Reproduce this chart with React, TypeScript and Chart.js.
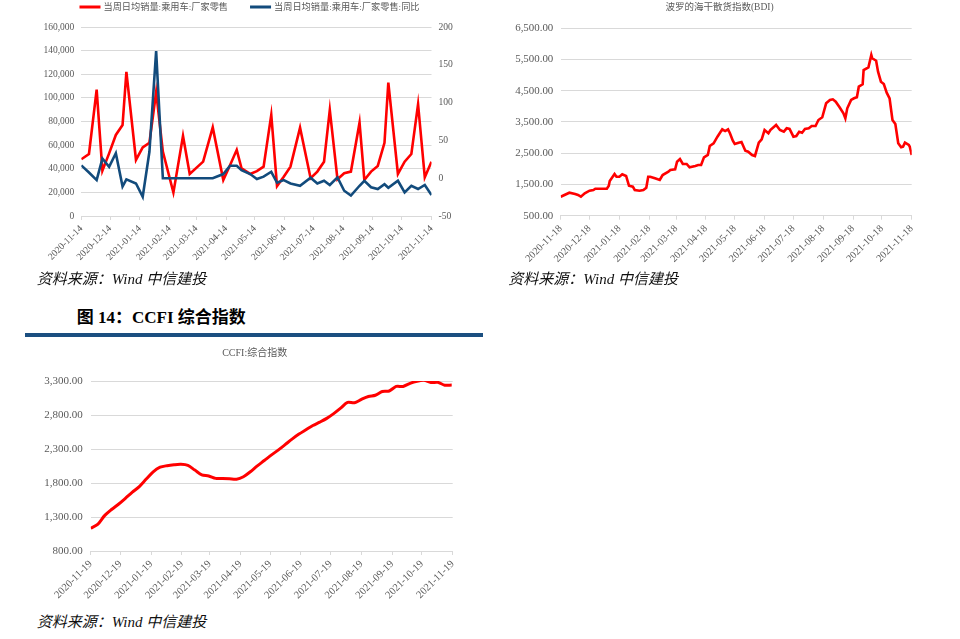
import React, { useEffect, useRef } from "react";
import { Chart, registerables } from "chart.js";

Chart.register(...registerables);

const FONT = "'Liberation Serif', 'Noto Sans CJK SC', serif";
const GRID = "#d9d9d9";
const TEXT = "#595959";
const RED = "#ff0000";
const BLUE = "#124b7c";

// ---------- Chart 1: weekly passenger-car retail ----------
const salesLegend = ["当周日均销量:乘用车:厂家零售", "当周日均销量:乘用车:厂家零售:同比"];
const salesDates = [
  "2020-11-14", "2020-11-22", "2020-11-30", "2020-12-06", "2020-12-13", "2020-12-20", "2020-12-27", "2020-12-31",
  "2021-01-10", "2021-01-17", "2021-01-24", "2021-01-31", "2021-02-07", "2021-02-18", "2021-02-28",
  "2021-03-07", "2021-03-21", "2021-03-31", "2021-04-11", "2021-04-18", "2021-04-25", "2021-04-30",
  "2021-05-09", "2021-05-16", "2021-05-23", "2021-05-31", "2021-06-06", "2021-06-13", "2021-06-20", "2021-06-30",
  "2021-07-11", "2021-07-18", "2021-07-25", "2021-07-31", "2021-08-08", "2021-08-15", "2021-08-22", "2021-08-31",
  "2021-09-05", "2021-09-12", "2021-09-19", "2021-09-26", "2021-09-30", "2021-10-10", "2021-10-17", "2021-10-24",
  "2021-10-31", "2021-11-07", "2021-11-14",
];
const salesRetail = [
  48000, 52500, 107000, 38400, 53000, 68600, 77000, 122000,
  47500, 58000, 62000, 105000, 54500, 19800, 67800,
  35600, 46000, 75000, 30500, 43000, 56000, 40400,
  35600, 38000, 41800, 85600, 25400, 33300, 41800, 74800,
  32000, 37600, 46000, 89800, 31100, 36200, 37600, 79000,
  30500, 37600, 42400, 62000, 113000, 35600, 46000, 52500,
  94600, 32800, 46000,
];
const salesYoY = [
  17, 7.5, -2.5, 26, 15, 33, -11, -1.5,
  -7, -24.5, 35, 168, 0, 0, 0,
  0, 0, 0, 5.5, 16.4, 16.4, 10.7,
  5.5, -1, 2, 8.5, -6, -2.5, -7, -10,
  0.6, -7, -3.4, -9, 1, -16.6, -23, -10,
  -3.4, -12, -14.3, -8, -12.6, -3.4, -18.7, -10,
  -14.3, -9, -22.3,
];
const salesTickDates = [
  "2020-11-14", "2020-12-14", "2021-01-14", "2021-02-14", "2021-03-14", "2021-04-14", "2021-05-14",
  "2021-06-14", "2021-07-14", "2021-08-14", "2021-09-14", "2021-10-14", "2021-11-14",
];

// ---------- Chart 2: BDI ----------
const bdiTitle = "波罗的海干散货指数(BDI)";
const bdiDates = [
  "2020-11-18", "2020-11-27", "2020-12-03", "2020-12-06", "2020-12-09", "2020-12-13", "2020-12-18", "2020-12-22", "2020-12-24",
  "2021-01-05", "2021-01-07", "2021-01-08", "2021-01-13", "2021-01-15", "2021-01-18", "2021-01-21", "2021-01-25", "2021-01-28",
  "2021-02-01", "2021-02-03", "2021-02-08", "2021-02-12", "2021-02-15", "2021-02-17", "2021-02-19", "2021-02-24",
  "2021-03-01", "2021-03-04", "2021-03-10", "2021-03-12", "2021-03-17", "2021-03-19", "2021-03-22", "2021-03-25", "2021-03-29",
  "2021-04-01", "2021-04-07", "2021-04-10", "2021-04-13", "2021-04-16", "2021-04-20", "2021-04-22", "2021-04-26", "2021-04-30",
  "2021-05-05", "2021-05-08", "2021-05-11", "2021-05-13", "2021-05-16", "2021-05-18", "2021-05-22", "2021-05-25", "2021-05-29",
  "2021-06-01", "2021-06-05", "2021-06-08", "2021-06-12", "2021-06-15", "2021-06-18", "2021-06-22", "2021-06-24", "2021-06-30",
  "2021-07-04", "2021-07-08", "2021-07-11", "2021-07-14", "2021-07-18", "2021-07-21", "2021-07-24", "2021-07-27", "2021-07-30",
  "2021-08-03", "2021-08-06", "2021-08-10", "2021-08-13", "2021-08-17", "2021-08-21", "2021-08-25", "2021-08-28", "2021-08-31",
  "2021-09-04", "2021-09-08", "2021-09-10", "2021-09-12", "2021-09-16", "2021-09-19", "2021-09-22", "2021-09-24", "2021-09-28", "2021-09-29",
  "2021-10-04", "2021-10-07", "2021-10-08", "2021-10-12", "2021-10-14", "2021-10-17", "2021-10-20", "2021-10-23", "2021-10-26", "2021-10-29",
  "2021-11-01", "2021-11-04", "2021-11-07", "2021-11-09", "2021-11-11", "2021-11-15", "2021-11-16", "2021-11-18",
];
const bdiValues = [
  1108, 1236, 1195, 1163, 1108, 1217, 1300, 1323, 1365,
  1365, 1460, 1611, 1835, 1749, 1749, 1826, 1771, 1460,
  1428, 1323, 1300, 1323, 1397, 1749, 1749, 1697,
  1643, 1803, 1909, 1963, 1986, 2229, 2316, 2155, 2155,
  2050, 2091, 2123, 2123, 2370, 2444, 2732, 2818, 3030,
  3267, 3212, 3267, 3138, 2902, 2796, 2838, 2860, 2581,
  2549, 2444, 2412, 2838, 2946, 3244, 3138, 3244, 3404,
  3244, 3190, 3298, 3276, 3030, 3052, 3190, 3158, 3276,
  3298, 3372, 3372, 3564, 3651, 4099, 4205, 4227, 4150,
  3971, 3779, 3619, 3939, 4205, 4259, 4291, 4631, 4707, 5165,
  5252, 5646, 5540, 5463, 5111, 4790, 4717, 4438, 4259, 3564,
  3436, 2818, 2690, 2710, 2838, 2764, 2710, 2444,
];
const bdiTickDates = [
  "2020-11-18", "2020-12-18", "2021-01-18", "2021-02-18", "2021-03-18", "2021-04-18", "2021-05-18",
  "2021-06-18", "2021-07-18", "2021-08-18", "2021-09-18", "2021-10-18", "2021-11-18",
];

// ---------- Chart 3: CCFI ----------
const ccfiTitle = "CCFI:综合指数";
const ccfiDates = [
  "2020-11-19", "2020-11-26", "2020-12-03", "2020-12-10", "2020-12-17", "2020-12-24", "2020-12-31",
  "2021-01-07", "2021-01-14", "2021-01-21", "2021-01-28", "2021-02-04", "2021-02-11", "2021-02-18", "2021-02-25",
  "2021-03-04", "2021-03-11", "2021-03-18", "2021-03-25", "2021-04-01", "2021-04-08", "2021-04-15", "2021-04-22", "2021-04-29",
  "2021-05-06", "2021-05-13", "2021-05-20", "2021-05-27", "2021-06-03", "2021-06-10", "2021-06-17", "2021-06-24",
  "2021-07-01", "2021-07-08", "2021-07-15", "2021-07-22", "2021-07-29", "2021-08-05", "2021-08-12", "2021-08-19", "2021-08-26",
  "2021-09-02", "2021-09-09", "2021-09-16", "2021-09-23", "2021-09-30", "2021-10-07", "2021-10-14", "2021-10-21", "2021-10-28",
  "2021-11-04", "2021-11-11", "2021-11-18",
];
const ccfiValues = [
  1134, 1190, 1320, 1410, 1488, 1575, 1665, 1748, 1858, 1965,
  2032, 2055, 2068, 2074, 2058, 1990, 1920, 1904, 1868, 1867,
  1862, 1855, 1892, 1966, 2052, 2130, 2210, 2284, 2364, 2446,
  2520, 2583, 2645, 2695, 2750, 2820, 2900, 2985, 2980, 3030,
  3072, 3090, 3145, 3153, 3220, 3220, 3266, 3297, 3310, 3278,
  3280, 3238, 3240,
];
const ccfiTickDates = [
  "2020-11-19", "2020-12-19", "2021-01-19", "2021-02-19", "2021-03-19", "2021-04-19", "2021-05-19",
  "2021-06-19", "2021-07-19", "2021-08-19", "2021-09-19", "2021-10-19", "2021-11-19",
];

const sourceText = "资料来源：Wind 中信建投";
const figureTitle = "图 14：CCFI 综合指数";

// ---------- helpers ----------
function dayOffset(date: string, origin: string) {
  return (Date.parse(date) - Date.parse(origin)) / 86400000;
}

function points(dates: string[], values: number[], origin: string) {
  return dates.map((d, i) => ({ x: dayOffset(d, origin), y: values[i] }));
}

function xScale(tickDates: string[], size: number, height: number, padRight?: number) {
  const origin = tickDates[0];
  const tickValues = tickDates.map((d) => dayOffset(d, origin));
  return {
    type: "linear",
    position: "bottom",
    min: 0,
    max: tickValues[tickValues.length - 1],
    afterBuildTicks: (s: any) => {
      s.ticks = tickValues.map((v) => ({ value: v }));
    },
    afterFit: (s: any) => {
      s.height = height;
      if (padRight !== undefined) s.paddingRight = padRight;
    },
    grid: { display: true, drawOnChartArea: false, drawTicks: true, tickLength: 4, color: GRID },
    border: { display: true, color: GRID },
    ticks: {
      autoSkip: false,
      minRotation: 45,
      maxRotation: 45,
      padding: 3,
      color: TEXT,
      font: { family: FONT, size },
      callback: (_v: any, i: number) => tickDates[i],
    },
  };
}

function yScale(opts: {
  min: number; max: number; step: number; width: number; size: number; pad: number;
  position?: string; grid?: boolean; fmt: (v: number) => string;
}) {
  return {
    type: "linear",
    position: opts.position || "left",
    min: opts.min,
    max: opts.max,
    afterFit: (s: any) => {
      s.width = opts.width;
    },
    grid: { display: true, drawOnChartArea: opts.grid !== false, drawTicks: false, color: GRID, lineWidth: 1 },
    border: { display: false },
    ticks: {
      stepSize: opts.step,
      padding: opts.pad,
      color: TEXT,
      font: { family: FONT, size: opts.size },
      callback: (v: any) => opts.fmt(Number(v)),
    },
  };
}

const fmtInt = (v: number) => v.toLocaleString("en-US");
const fmt2 = (v: number) =>
  v.toLocaleString("en-US", { minimumFractionDigits: 2, maximumFractionDigits: 2 });

const manualLegend = {
  id: "manualLegend",
  afterDraw(chart: any) {
    const ctx = chart.ctx;
    ctx.save();
    ctx.font = `9.2px ${FONT}`;
    const box = 21;
    const gap = 3;
    const itemGap = 22;
    const items = chart.data.datasets.map((ds: any) => ({ text: ds.label, color: ds.borderColor }));
    const widths = items.map((it: any) => box + gap + ctx.measureText(it.text).width);
    const total = widths.reduce((a: number, b: number) => a + b, 0) + itemGap * (items.length - 1);
    let x = 249.5 - total / 2;
    const y = 7;
    items.forEach((it: any, i: number) => {
      ctx.fillStyle = it.color;
      ctx.fillRect(x, y - 1.5, box, 3);
      ctx.fillStyle = TEXT;
      ctx.textAlign = "left";
      ctx.textBaseline = "middle";
      ctx.fillText(it.text, x + box + gap, y + 0.5);
      x += widths[i] + itemGap;
    });
    ctx.restore();
  },
};

function ChartCanvas(props: { left: number; top: number; width: number; height: number; build: () => any }) {
  const ref = useRef<HTMLCanvasElement>(null);
  useEffect(() => {
    const chart = new Chart(ref.current as HTMLCanvasElement, props.build());
    return () => chart.destroy();
  }, []);
  return (
    <canvas
      ref={ref}
      width={props.width}
      height={props.height}
      style={{ position: "absolute", left: props.left, top: props.top, width: props.width, height: props.height }}
    />
  );
}

function buildSales() {
  return {
    type: "line",
    data: {
      datasets: [
        {
          label: salesLegend[0],
          data: points(salesDates, salesRetail, salesTickDates[0]),
          borderColor: RED,
          backgroundColor: RED,
          borderWidth: 2.6,
          pointRadius: 0,
          tension: 0,
          yAxisID: "y",
          order: 1,
        },
        {
          label: salesLegend[1],
          data: points(salesDates, salesYoY, salesTickDates[0]),
          borderColor: BLUE,
          backgroundColor: BLUE,
          borderWidth: 2.6,
          pointRadius: 0,
          tension: 0,
          yAxisID: "y1",
          order: 0,
        },
      ],
    },
    options: {
      responsive: false,
      animation: false,
      layout: { padding: { top: 27, left: 0, right: 0, bottom: 0 } },
      plugins: { legend: { display: false }, title: { display: false }, tooltip: { enabled: false } },
      scales: {
        x: xScale(salesTickDates, 9.6, 59),
        y: yScale({ min: 0, max: 160000, step: 20000, width: 81.3, size: 9.5, pad: 7, fmt: fmtInt }),
        y1: yScale({
          min: -50, max: 200, step: 50, width: 48.5, size: 9.6, pad: 7, position: "right", grid: false,
          fmt: (v) => String(v),
        }),
      },
    },
    plugins: [manualLegend],
  };
}

function buildBdi() {
  return {
    type: "line",
    data: {
      datasets: [
        {
          label: bdiTitle,
          data: points(bdiDates, bdiValues, bdiTickDates[0]),
          borderColor: RED,
          backgroundColor: RED,
          borderWidth: 2.6,
          pointRadius: 0,
          tension: 0,
        },
      ],
    },
    options: {
      responsive: false,
      animation: false,
      layout: { padding: { top: 0, left: 0, right: 11, bottom: 0 } },
      plugins: {
        legend: { display: false },
        tooltip: { enabled: false },
        title: {
          display: true,
          text: bdiTitle,
          color: TEXT,
          font: { family: FONT, size: 9.5, weight: "normal", lineHeight: 1.2 },
          padding: { top: 2, bottom: 14.9 },
        },
      },
      scales: {
        x: xScale(bdiTickDates, 10.2, 59.3, 48.3),
        y: yScale({ min: 500, max: 6500, step: 1000, width: 70.7, size: 10.9, pad: 7.4, fmt: fmt2 }),
      },
    },
  };
}

function buildCcfi() {
  return {
    type: "line",
    data: {
      datasets: [
        {
          label: ccfiTitle,
          data: points(ccfiDates, ccfiValues, ccfiTickDates[0]),
          borderColor: RED,
          backgroundColor: RED,
          borderWidth: 3,
          pointRadius: 0,
          tension: 0.3,
        },
      ],
    },
    options: {
      responsive: false,
      animation: false,
      layout: { padding: { top: 0, left: 29.4, right: 0, bottom: 0 } },
      plugins: {
        legend: { display: false },
        tooltip: { enabled: false },
        title: {
          display: true,
          text: ccfiTitle,
          color: TEXT,
          font: { family: FONT, size: 10, weight: "normal", lineHeight: 1.2 },
          padding: { top: 7.3, bottom: 21.7 },
        },
      },
      scales: {
        x: xScale(ccfiTickDates, 10.5, 59, 27.3),
        y: yScale({ min: 800, max: 3300, step: 500, width: 61.3, size: 11, pad: 8, fmt: fmt2 }),
      },
    },
  };
}

const captionStyle: React.CSSProperties = {
  position: "absolute",
  fontFamily: FONT,
  fontStyle: "italic",
  fontSize: 15,
  lineHeight: "18px",
  color: "#111111",
  whiteSpace: "nowrap",
  margin: 0,
};

export default function App() {
  return (
    <div style={{ position: "absolute", left: 0, top: 0, width: 960, height: 639, background: "#ffffff", overflow: "hidden" }}>
      <ChartCanvas left={0} top={0} width={480} height={275} build={buildSales} />
      <ChartCanvas left={490} top={0} width={470} height={275} build={buildBdi} />
      <ChartCanvas left={0} top={340} width={480} height={270} build={buildCcfi} />
      <div style={{ ...captionStyle, left: 36.7, top: 270.3 }}>{sourceText}</div>
      <div style={{ ...captionStyle, left: 508.3, top: 270.3 }}>{sourceText}</div>
      <div style={{ ...captionStyle, left: 36.7, top: 612.7 }}>{sourceText}</div>
      <div
        style={{
          position: "absolute",
          left: 76.7,
          top: 309.3,
          fontFamily: FONT,
          fontWeight: "bold",
          fontSize: 17,
          lineHeight: "18px",
          color: "#000000",
          whiteSpace: "nowrap",
        }}
      >
        {figureTitle}
      </div>
      <div style={{ position: "absolute", left: 25, top: 333.3, width: 458.3, height: 3.4, background: "#1b4f80" }} />
    </div>
  );
}
